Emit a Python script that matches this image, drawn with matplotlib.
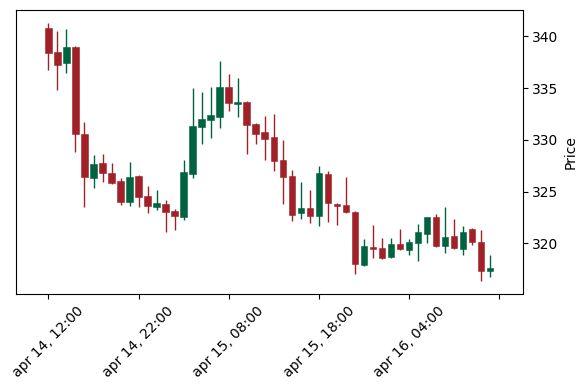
import matplotlib
matplotlib.use("Agg")
import matplotlib.pyplot as plt
import numpy as np

opens = [340.85, 338.5, 337.4, 339.0, 330.6, 326.35, 327.8, 326.75, 326.05, 324.0,
         326.55, 324.6, 323.55, 323.8, 323.1, 322.55, 326.7, 331.2, 331.95, 332.25,
         335.1, 333.5, 333.7, 331.55, 330.8, 330.3, 328.05, 326.5, 322.9, 323.45,
         322.6, 326.7, 323.8, 323.7, 323.05, 317.9, 319.65, 319.55, 318.65, 319.95,
         319.35, 320.0, 320.95, 322.5, 319.75, 320.75, 319.5, 321.35, 320.15, 317.3]
highs = [341.3, 340.5, 340.7, 339.1, 331.7, 328.5, 328.6, 327.75, 326.3, 327.85,
         326.6, 325.5, 325.15, 324.15, 323.3, 328.05, 335.05, 334.6, 335.15, 337.65,
         336.35, 335.95, 333.75, 331.6, 332.3, 332.5, 329.95, 327.05, 325.95, 325.15,
         327.45, 327.0, 323.85, 326.4, 323.1, 320.4, 321.8, 320.5, 320.5, 321.35,
         320.45, 321.9, 322.55, 322.8, 323.5, 322.35, 321.65, 321.45, 321.25, 318.85]
lows = [336.7, 334.8, 336.5, 328.8, 323.55, 325.3, 325.9, 325.7, 323.7, 323.6,
        323.5, 322.95, 323.2, 321.1, 321.3, 322.3, 326.3, 329.6, 330.15, 331.1,
        332.8, 332.25, 328.6, 329.6, 328.05, 326.95, 323.8, 322.15, 322.35, 321.95,
        321.7, 322.05, 321.75, 322.9, 317.05, 317.85, 318.55, 318.45, 318.55, 319.35,
        318.9, 318.3, 320.0, 319.65, 319.05, 319.45, 318.85, 319.85, 316.4, 316.75]
closes = [338.35, 337.25, 339.0, 330.55, 326.45, 327.7, 326.75, 325.85, 324.0, 326.45,
          324.5, 323.6, 323.9, 323.0, 322.6, 326.9, 331.3, 332.0, 332.4, 335.1,
          333.6, 333.65, 331.4, 330.6, 330.1, 327.95, 326.45, 322.75, 323.45, 322.6,
          326.8, 323.85, 323.65, 323.05, 318.0, 319.7, 319.45, 318.55, 319.9, 319.45,
          320.1, 321.05, 322.5, 319.75, 320.6, 319.55, 321.1, 320.1, 317.35, 317.65]
tick_labels = ["apr 14, 12:00", "apr 14, 22:00", "apr 15, 08:00",
               "apr 15, 18:00", "apr 16, 04:00", ""]

up_color = "#006340"
down_color = "#A02128"

o = np.array(opens); h = np.array(highs); l = np.array(lows); c = np.array(closes)
x = np.arange(len(o))
colors = [up_color if cc >= oo else down_color for oo, cc in zip(o, c)]

fig = plt.figure(figsize=(5.87, 3.90), dpi=100)
ax = fig.add_axes([16/587, 96/390, 506.5/587, 284/390])

ax.vlines(x, l, h, colors=colors, linewidth=1.0, zorder=1)
bottoms = np.minimum(o, c)
heights = np.maximum(np.abs(c - o), 0.05)
ax.bar(x, heights, bottom=bottoms, width=0.72, color=colors,
       edgecolor=colors, linewidth=0.4, zorder=2)

rng = h.max() - l.min()
ax.set_ylim(l.min() - 0.052 * rng, h.max() + 0.05 * rng)
ax.set_xlim(-3.6, len(o) - 1 + 3.6)

ax.yaxis.tick_right()
ax.yaxis.set_label_position("right")
ax.set_ylabel("Price")
ax.set_yticks([320, 325, 330, 335, 340])

ax.set_xticks(np.arange(0, 51, 10))
ax.set_xticklabels(tick_labels, rotation=45, ha="center")

fig.savefig("out.png", dpi=100)
